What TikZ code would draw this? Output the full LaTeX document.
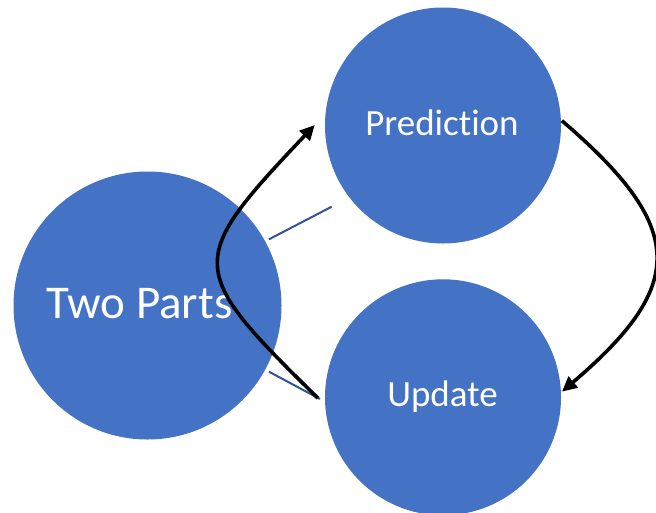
\documentclass[tikz,border=0pt]{standalone}
\usepackage{fontspec}
\setmainfont[Ligatures={NoCommon}]{Carlito}
\usetikzlibrary{arrows.meta,calc}
\definecolor{circblue}{HTML}{4472C4}
\definecolor{linkblue}{HTML}{2F5597}
\tikzset{
  circ/.style={circle, fill=circblue, draw=none, inner sep=0pt},
  lbl/.style={text=white, inner sep=0pt, anchor=base},
  link/.style={draw=linkblue, line width=2pt},
  flow/.style={draw=black, line width=3.6pt, -{Triangle[length=15pt,width=14pt]}}
}
\begin{document}
\begin{tikzpicture}[x=1pt,y=-1pt]
\useasboundingbox (0,0) rectangle (656,512);
\clip (0,0) rectangle (656,512);
\node[circ, minimum size=268pt] (two) at (147.5,305.5) {};
\node[circ, minimum size=236pt] (pred) at (443,125.5) {};
\node[circ, minimum size=236pt] (upd) at (443,397.3) {};
\node[lbl, font=\fontsize{47}{52}\selectfont] (twot) at (139.5,318) {Two Parts};
\node[lbl, font=\fontsize{37}{42}\selectfont] (predt) at (442,135) {Prediction};
\node[lbl, font=\fontsize{37}{42}\selectfont] (updt) at (442.5,406) {Update};
% connector stubs
\coordinate (l1a) at (269,239.3);
\coordinate (l1b) at (331.7,206.7);
\coordinate (l2a) at (269,371.7);
\coordinate (l2b) at (320,399);
\draw[link] (l1a) -- (l1b);
\draw[link] (l2a) -- (l2b);
% cycle arrows
\coordinate (ustart) at ($(upd.west)+(-7,0.7)$);
\coordinate (ptip) at ($(pred.west)+(-10,-0.5)$);
\coordinate (pstart) at ($(pred.east)+(0.7,-4.8)$);
\coordinate (utip) at ($(upd.east)+(0.7,-5.6)$);
\draw[flow] (ustart) .. controls (186,269) and (186,261) .. (ptip);
\draw[flow] (pstart) .. controls (687,228) and (687,285) .. (utip);
\end{tikzpicture}
\end{document}
